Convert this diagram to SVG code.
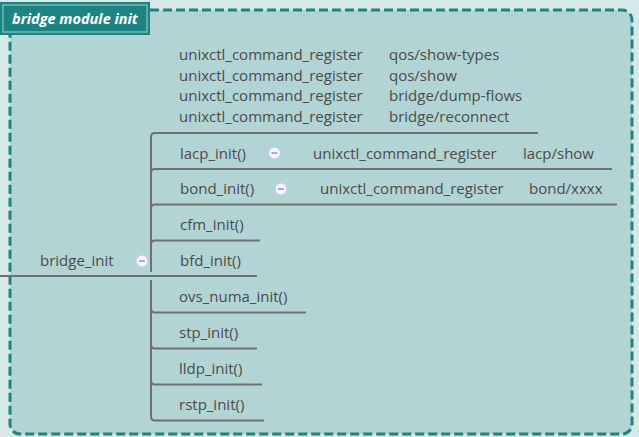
<svg xmlns="http://www.w3.org/2000/svg" width="639" height="437" viewBox="0 0 639 437">
<style>
text{font-family:"Open Sans","Noto Sans","Liberation Sans",sans-serif;font-size:15px;fill:#4b4b4b}
.ln{fill:none;stroke:#707070;stroke-width:2}
.t{font-weight:bold;font-style:italic;font-size:14.5px;fill:#ffffff}
</style>
<defs>
<g id="minus">
<circle r="6" fill="#f5f6fc" stroke="#c4caf0" stroke-width="1.2"/>
<line x1="-3" y1="0" x2="3" y2="0" stroke="#8a92d8" stroke-width="1.5"/>
</g>
</defs>
<rect x="0" y="0" width="639" height="437" fill="#d6e8e8"/>
<rect id="frame" x="10" y="10" width="622" height="424" rx="10" fill="#b2d4d4" stroke="#1e8482" stroke-width="3" stroke-dasharray="9 4"/>
<g id="title">
<rect x="0" y="2" width="150" height="33" fill="#1e8482"/>
<rect x="3" y="5" width="144" height="27" fill="none" stroke="#d8eeee" stroke-opacity="0.7" stroke-width="1"/>
<text class="t" x="12" y="24">bridge module init</text>
</g>
<g id="connectors">
<path class="ln" d="M0 276 H257"/>
<path class="ln" d="M151 272 V137 Q151 133 155 133 H538"/>
<path class="ln" d="M151 173 Q151 169 155 169 H612"/>
<path class="ln" d="M151 208.5 Q151 204.5 155 204.5 H617"/>
<path class="ln" d="M151 244.5 Q151 240.5 155 240.5 H260"/>
<path class="ln" d="M151 280 V416.5 Q151 420.5 155 420.5 H264"/>
<path class="ln" d="M151 308.5 Q151 312.5 155 312.5 H306"/>
<path class="ln" d="M151 344.5 Q151 348.5 155 348.5 H257"/>
<path class="ln" d="M151 380.5 Q151 384.5 155 384.5 H262"/>
</g>
<g id="bridge_init">
<text x="40" y="266">bridge_init</text>
<use href="#minus" x="142" y="261"/>
</g>
<g id="cmd_group">
<text x="179" y="60">unixctl_command_register</text>
<text x="389" y="60">qos/show-types</text>
<text x="179" y="80.5">unixctl_command_register</text>
<text x="389" y="80.5">qos/show</text>
<text x="179" y="101">unixctl_command_register</text>
<text x="389" y="101">bridge/dump-flows</text>
<text x="179" y="121.5">unixctl_command_register</text>
<text x="389" y="121.5">bridge/reconnect</text>
</g>
<g id="lacp_init">
<text x="180" y="158.5">lacp_init()</text>
<use href="#minus" x="274.5" y="153"/>
</g>
<g id="lacp_cmd">
<text x="313" y="158.5">unixctl_command_register</text>
<text x="523" y="158.5">lacp/show</text>
</g>
<g id="bond_init">
<text x="180" y="194">bond_init()</text>
<use href="#minus" x="281" y="189"/>
</g>
<g id="bond_cmd">
<text x="320" y="194">unixctl_command_register</text>
<text x="529" y="194">bond/xxxx</text>
</g>
<g id="cfm_init"><text x="180" y="230">cfm_init()</text></g>
<g id="bfd_init"><text x="180" y="266">bfd_init()</text></g>
<g id="ovs_numa_init"><text x="179" y="302">ovs_numa_init()</text></g>
<g id="stp_init"><text x="179" y="338">stp_init()</text></g>
<g id="lldp_init"><text x="179" y="374">lldp_init()</text></g>
<g id="rstp_init"><text x="179" y="410">rstp_init()</text></g>
</svg>
